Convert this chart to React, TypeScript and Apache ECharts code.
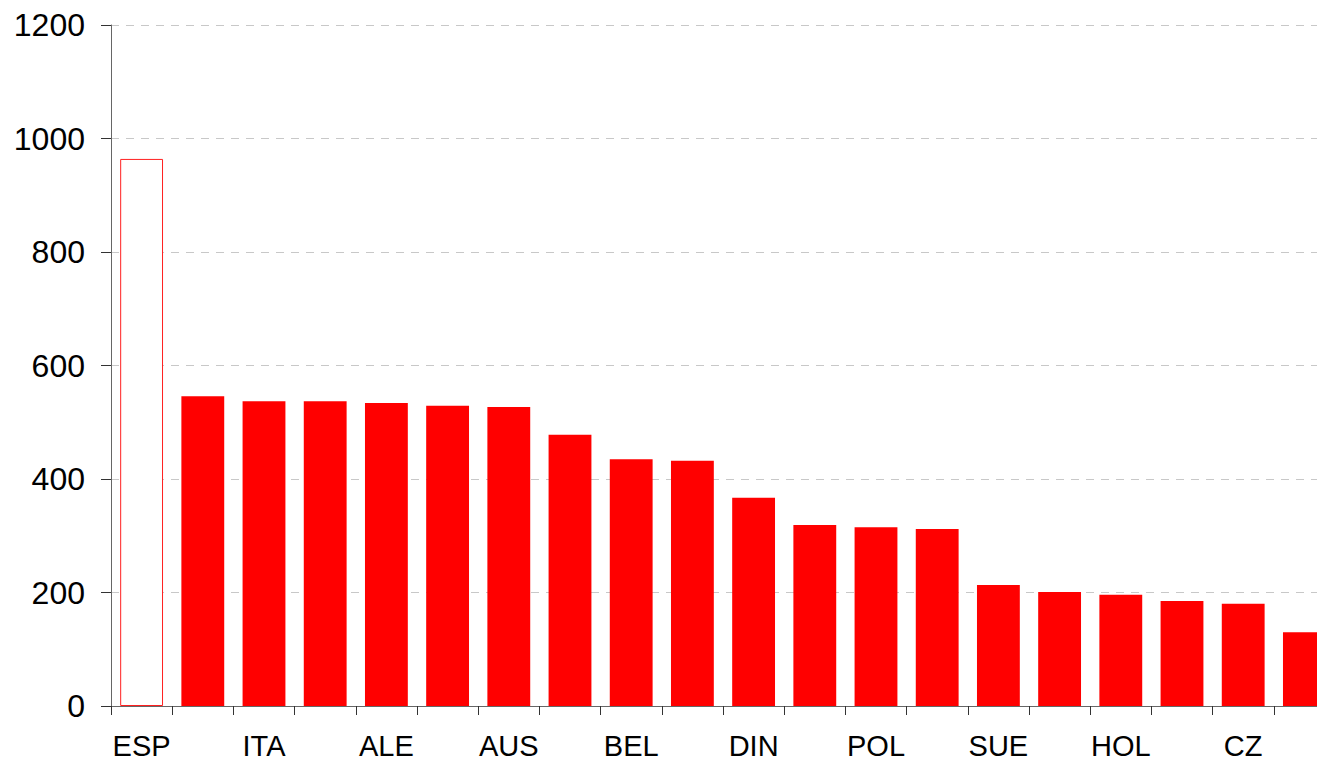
import React, { useEffect, useRef } from "react";
import * as echarts from "echarts";

const categories = [
  "ESP", "FRA", "ITA", "POR", "ALE", "GRE", "AUS", "IRL", "BEL", "FIN",
  "DIN", "HUN", "POL", "ESV", "SUE", "LUX", "HOL", "RUN", "CZ", "ESL",
];
const values = [
  964, 546, 537, 537, 534, 529, 527, 478, 435, 432,
  367, 319, 315, 312, 213, 201, 196, 185, 180, 130,
];
const highlightIndex = 0;
const yTicks = { min: 0, max: 1200, interval: 200 };

export default function App() {
  const ref = useRef<HTMLDivElement>(null);
  useEffect(() => {
    document.body.style.margin = "0";
    document.body.style.overflow = "hidden";
    document.documentElement.style.overflow = "hidden";
    if (!ref.current) return;
    const chart = echarts.init(ref.current, null, { renderer: "svg" });
    const font = "'Liberation Sans', Arial, sans-serif";
    chart.setOption({
      animation: false,
      backgroundColor: "#ffffff",
      grid: { left: 111, top: 25, bottom: 56, right: 0, containLabel: false },
      xAxis: {
        type: "category",
        data: categories,
        boundaryGap: true,
        axisLine: { show: true, lineStyle: { color: "#666666", width: 1 } },
        axisTick: { show: true, interval: 0, length: 9, lineStyle: { color: "#333333" } },
        axisLabel: {
          interval: 1,
          color: "#000000",
          fontFamily: font,
          fontSize: 29,
          margin: 25,
        },
        splitLine: { show: false },
      },
      yAxis: {
        type: "value",
        min: yTicks.min,
        max: yTicks.max,
        interval: yTicks.interval,
        axisLine: { show: true, lineStyle: { color: "#666666", width: 1 } },
        axisTick: { show: true, length: 10, lineStyle: { color: "#333333" } },
        axisLabel: {
          color: "#000000",
          fontFamily: font,
          fontSize: 32,
          margin: 26,
          formatter: (v: number) => String(v),
        },
        splitLine: {
          show: true,
          lineStyle: { color: "#c8c8c8", type: [8, 7], width: 1 },
        },
      },
      series: [
        {
          type: "bar",
          barWidth: "70%",
          data: values.map((v, i) =>
            i === highlightIndex
              ? {
                  value: v,
                  itemStyle: { color: "#ffffff", borderColor: "#ff2020", borderWidth: 1 },
                }
              : { value: v, itemStyle: { color: "#ff0000" } }
          ),
        },
      ],
    });
    return () => chart.dispose();
  }, []);
  return <div ref={ref} style={{ width: 1335, height: 762 }} />;
}
